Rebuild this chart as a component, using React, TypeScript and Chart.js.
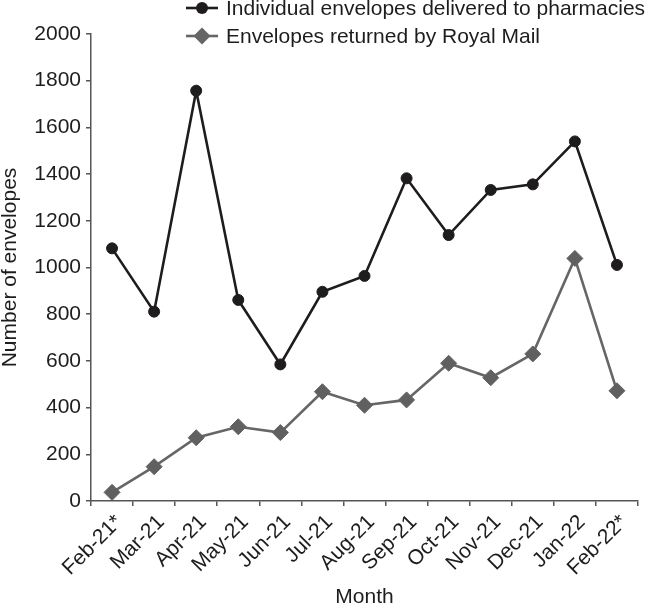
import React, { useEffect, useRef } from 'react';
import { Chart, registerables } from 'chart.js';

Chart.register(...registerables);

const months = ['Feb-21*', 'Mar-21', 'Apr-21', 'May-21', 'Jun-21', 'Jul-21', 'Aug-21', 'Sep-21', 'Oct-21', 'Nov-21', 'Dec-21', 'Jan-22', 'Feb-22*'];
const delivered = [1082, 811, 1757, 861, 585, 896, 964, 1382, 1139, 1332, 1356, 1540, 1011];
const returned = [37, 147, 271, 318, 293, 468, 410, 433, 590, 528, 630, 1039, 472];
const seriesNames = ['Individual envelopes delivered to pharmacies', 'Envelopes returned by Royal Mail'];
const yMin = 0;
const yMax = 2000;
const yStep = 200;

const FONT = '"Liberation Sans", Arial, Helvetica, sans-serif';
const BLACK = '#1f1c1d';
const GRAY = '#666666';
const AXIS = '#555555';

const legendPlugin = {
  id: 'insideLegend',
  afterDraw(chart: any) {
    const ctx = chart.ctx;
    const rows = [
      { y: 8, color: BLACK, style: 'circle', r: 6 },
      { y: 36, color: GRAY, style: 'rectRot', r: 8.5 },
    ];
    ctx.save();
    rows.forEach((row, i) => {
      ctx.strokeStyle = row.color;
      ctx.lineWidth = 2.6;
      ctx.beginPath();
      ctx.moveTo(186, row.y);
      ctx.lineTo(218, row.y);
      ctx.stroke();
      ctx.fillStyle = row.color;
      ctx.beginPath();
      if (row.style === 'circle') {
        ctx.arc(202, row.y, row.r, 0, Math.PI * 2);
      } else {
        ctx.moveTo(202 - row.r, row.y);
        ctx.lineTo(202, row.y - row.r);
        ctx.lineTo(202 + row.r, row.y);
        ctx.lineTo(202, row.y + row.r);
        ctx.closePath();
      }
      ctx.fill();
      ctx.fillStyle = BLACK;
      ctx.font = `21px ${FONT}`;
      ctx.textBaseline = 'middle';
      ctx.textAlign = 'left';
      ctx.fillText(seriesNames[i], 226, row.y + 1);
    });
    ctx.restore();
  },
};

export default function App() {
  const ref = useRef<HTMLCanvasElement | null>(null);

  useEffect(() => {
    document.body.style.margin = '0';
    document.body.style.overflow = 'hidden';
    if (!ref.current) return;
    Chart.defaults.font.family = FONT;
    const chart = new Chart(ref.current, {
      type: 'line',
      data: {
        labels: months,
        datasets: [
          {
            label: seriesNames[0],
            data: delivered,
            borderColor: BLACK,
            backgroundColor: BLACK,
            borderWidth: 2.6,
            pointStyle: 'circle',
            pointRadius: 5.5,
            pointBorderWidth: 1,
            pointBackgroundColor: BLACK,
            pointBorderColor: BLACK,
            tension: 0,
          },
          {
            label: seriesNames[1],
            data: returned,
            borderColor: GRAY,
            backgroundColor: '#606060',
            borderWidth: 2.6,
            pointStyle: 'rectRot',
            pointRadius: 8,
            pointBorderWidth: 1,
            pointBackgroundColor: '#606060',
            pointBorderColor: '#606060',
            tension: 0,
          },
        ],
      },
      options: {
        responsive: false,
        animation: false,
        layout: { padding: { top: 34, right: 1, bottom: 0, left: 0 } },
        plugins: {
          legend: { display: false },
          tooltip: { enabled: false },
        },
        scales: {
          x: {
            type: 'category',
            offset: true,
            grid: {
              offset: true,
              drawOnChartArea: false,
              drawTicks: true,
              tickLength: 5,
              color: AXIS,
              lineWidth: 1.5,
            },
            border: { display: true, color: AXIS, width: 1.5 },
            ticks: {
              autoSkip: false,
              minRotation: 45,
              maxRotation: 45,
              padding: 4,
              labelOffset: 7,
              color: BLACK,
              font: { size: 21 },
            },
            title: {
              display: true,
              text: 'Month',
              color: BLACK,
              font: { size: 21, lineHeight: 1 },
              padding: { top: 0, bottom: 0 },
            },
            afterFit(scale: any) {
              scale.height = 107;
            },
          },
          y: {
            min: yMin,
            max: yMax,
            grid: {
              drawOnChartArea: false,
              drawTicks: true,
              tickLength: 5,
              color: AXIS,
              lineWidth: 1.5,
            },
            border: { display: true, color: AXIS, width: 1.5 },
            ticks: {
              stepSize: yStep,
              padding: 5,
              color: BLACK,
              font: { size: 21 },
              callback: (v: any) => String(v),
            },
            title: {
              display: true,
              text: 'Number of envelopes',
              color: BLACK,
              font: { size: 21, lineHeight: 1 },
              padding: { top: 0, bottom: 0 },
            },
            afterFit(scale: any) {
              scale.width = 91;
            },
          },
        },
      },
      plugins: [legendPlugin],
    });
    return () => chart.destroy();
  }, []);

  return (
    <div style={{ width: 647, height: 608, background: '#fff' }}>
      <canvas ref={ref} width={647} height={608} style={{ display: 'block', width: 647, height: 608 }} />
    </div>
  );
}
